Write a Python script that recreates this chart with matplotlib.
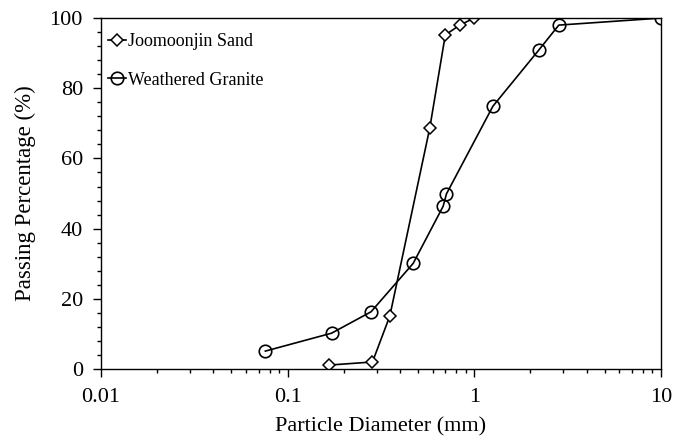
import matplotlib
matplotlib.use("Agg")
import matplotlib.pyplot as plt
from matplotlib.ticker import MultipleLocator, LogLocator, FixedFormatter, FixedLocator

plt.rcParams['font.family'] = ['Liberation Serif', 'DejaVu Serif']

# Grain size distribution data
sand_d = [0.166, 0.285, 0.353, 0.578, 0.70, 0.837, 1.0]
sand_pass = [1.1, 2.0, 15.1, 68.7, 95.2, 98.0, 100.0]

granite_d = [0.076, 0.172, 0.28, 0.471, 0.682, 0.71, 1.26, 2.22, 2.84, 10.0]
granite_pass = [5.1, 10.2, 16.3, 30.1, 46.4, 49.9, 74.9, 90.9, 98.0, 100.0]

x_ticks = [0.01, 0.1, 1, 10]
x_labels = ["0.01", "0.1", "1", "10"]

fig = plt.figure(figsize=(6.75, 4.41), dpi=100)
ax = fig.add_axes([0.1496, 0.1633, 0.8294, 0.7957])

ax.plot(sand_d, sand_pass, color='black', lw=1.2, marker='D', ms=6,
        mfc='white', mec='black', mew=1.1, label='Joomoonjin Sand')
ax.plot(granite_d, granite_pass, color='black', lw=1.2, marker='o', ms=9,
        mfc='none', mec='black', mew=1.2, label='Weathered Granite')

ax.set_xscale('log')
ax.set_xlim(0.01, 10)
ax.set_ylim(0, 100)
ax.xaxis.set_major_locator(FixedLocator(x_ticks))
ax.xaxis.set_major_formatter(FixedFormatter(x_labels))
ax.xaxis.set_minor_locator(LogLocator(base=10, subs=range(2, 10)))
ax.yaxis.set_major_locator(MultipleLocator(20))
ax.yaxis.set_minor_locator(MultipleLocator(4))

ax.tick_params(which='both', direction='out', top=False, right=False, labelsize=16)
ax.tick_params(which='major', length=6, width=1)
ax.tick_params(which='minor', length=3, width=1)
ax.tick_params(axis='x', which='major', pad=8)
ax.tick_params(axis='y', which='major', pad=7)
for s in ax.spines.values():
    s.set_linewidth(1.0)

ax.set_xlabel('Particle Diameter (mm)', fontsize=16, labelpad=7)
ax.set_ylabel('Passing Percentage (%)', fontsize=16.5, labelpad=10)

ax.legend(loc='upper left', bbox_to_anchor=(0.0, 0.978), frameon=False,
          fontsize=13, handlelength=1.0, handletextpad=0.1,
          borderaxespad=0.1, labelspacing=1.2, borderpad=0.3)

fig.savefig('out.png', dpi=100)
